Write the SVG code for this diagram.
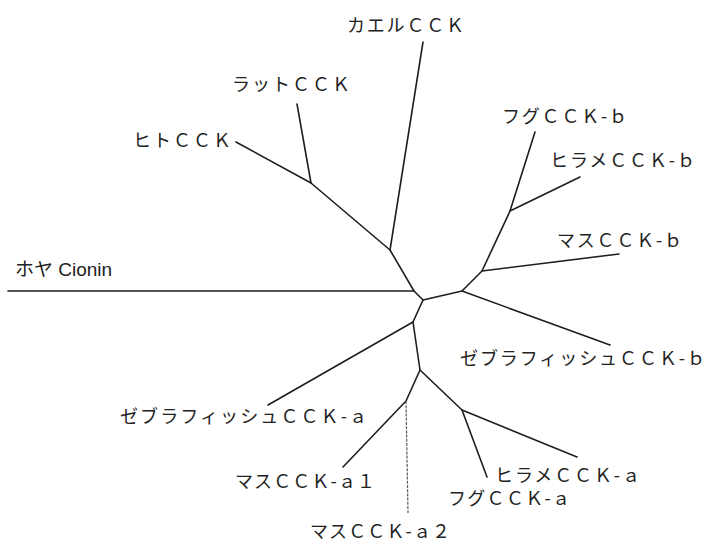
<svg xmlns="http://www.w3.org/2000/svg" width="705" height="542" viewBox="0 0 705 542">
<style>
.e{fill:none;stroke:#1e1e1e;stroke-width:1.6;stroke-linejoin:round;stroke-linecap:round}
.f{fill:none;stroke:#5a5a5a;stroke-width:1.2;stroke-dasharray:3 1.2}
.t{font-family:"Noto Sans CJK JP","Noto Sans",sans-serif;font-size:18px;fill:#222}
.c{font-family:"Liberation Sans","Noto Sans CJK JP",sans-serif;font-size:19px;fill:#222}
</style>
<rect width="705" height="542" fill="#fff"/>
<g id="connectors">
<polyline class="e" points="8,291 414,291"/>
<polyline class="e" points="236,142 311,183 390,250 414,291 423,300"/>
<polyline class="e" points="297,104 311,183"/>
<polyline class="e" points="423,42 390,250"/>
<polyline class="e" points="423,300 462,291 482,271 510,211 535,132"/>
<polyline class="e" points="510,211 580,177"/>
<polyline class="e" points="482,271 619,254"/>
<polyline class="e" points="462,291 610,345"/>
<polyline class="e" points="423,300 413,322 420,370"/>
<polyline class="e" points="413,322 268,405"/>
<polyline class="e" points="420,370 406,401 343,467"/>
<polyline class="f" points="406,401 408,513"/>
<polyline class="e" points="420,370 462,410 577,457"/>
<polyline class="e" points="462,410 487,477"/>
</g>
<g id="frog"><text class="t" x="347" y="32" textLength="117" lengthAdjust="spacing">カエルＣＣＫ</text></g>
<g id="rat"><text class="t" x="232" y="91" textLength="118" lengthAdjust="spacing">ラットＣＣＫ</text></g>
<g id="human"><text class="t" x="133" y="147" textLength="98" lengthAdjust="spacing">ヒトＣＣＫ</text></g>
<g id="cionin"><text class="c" x="15" y="276">ホヤ Cionin</text></g>
<g id="fugu-b"><text class="t" x="502" y="123" textLength="125" lengthAdjust="spacing">フグＣＣＫ-ｂ</text></g>
<g id="hirame-b"><text class="t" x="550" y="167" textLength="145" lengthAdjust="spacing">ヒラメＣＣＫ-ｂ</text></g>
<g id="masu-b"><text class="t" x="557" y="247" textLength="125" lengthAdjust="spacing">マスＣＣＫ-ｂ</text></g>
<g id="zebra-b"><text class="t" x="460" y="365" textLength="245" lengthAdjust="spacing">ゼブラフィッシュＣＣＫ-ｂ</text></g>
<g id="zebra-a"><text class="t" x="120" y="423" textLength="247" lengthAdjust="spacing">ゼブラフィッシュＣＣＫ-ａ</text></g>
<g id="hirame-a"><text class="t" x="495" y="482" textLength="145" lengthAdjust="spacing">ヒラメＣＣＫ-ａ</text></g>
<g id="fugu-a"><text class="t" x="448" y="505" textLength="122" lengthAdjust="spacing">フグＣＣＫ-ａ</text></g>
<g id="masu-a1"><text class="t" x="235" y="488" textLength="140" lengthAdjust="spacing">マスＣＣＫ-ａ１</text></g>
<g id="masu-a2"><text class="t" x="310" y="538" textLength="140" lengthAdjust="spacing">マスＣＣＫ-ａ２</text></g>
</svg>
